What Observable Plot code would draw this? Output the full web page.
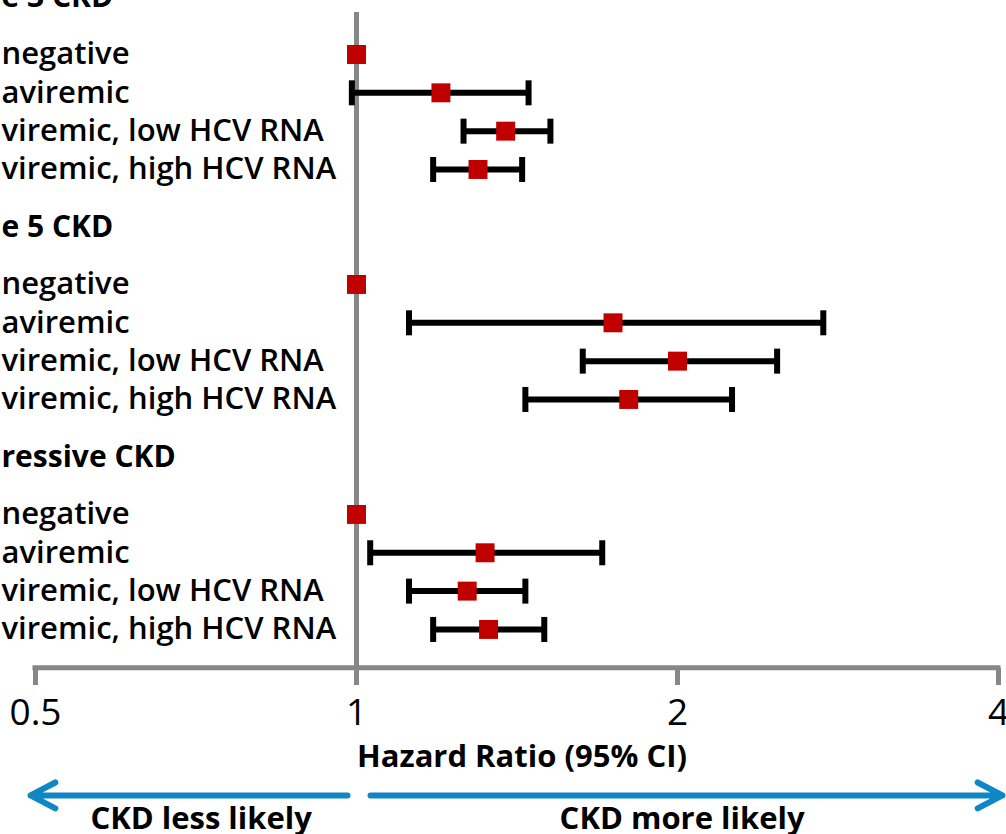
<!DOCTYPE html>
<html>
<head>
<meta charset="utf-8">
<script src="https://cdn.jsdelivr.net/npm/d3@7"></script>
<script src="https://cdn.jsdelivr.net/npm/@observablehq/plot@0.6"></script>
<style>
  html, body { margin: 0; padding: 0; background: #fff; overflow: hidden; }
</style>
</head>
<body>
<div id="chart"></div>
<script>
// Outcome groups (as they read at the left edge of the figure) and exposure categories
const groups = ["e 3 CKD", "e 5 CKD", "ressive CKD"];
const categories = [
  "negative",
  "aviremic",
  "viremic, low HCV RNA",
  "viremic, high HCV RNA"
];

// Hazard ratios with 95% confidence limits (reference group has no interval)
const stage3HR = [1, 1.20, 1.38, 1.30];
const stage3Lo = [null, 0.99, 1.26, 1.18];
const stage3Hi = [null, 1.45, 1.52, 1.43];

const stage5HR = [1, 1.74, 2.00, 1.80];
const stage5Lo = [null, 1.12, 1.63, 1.44];
const stage5Hi = [null, 2.74, 2.48, 2.25];

const progHR = [1, 1.32, 1.27, 1.33];
const progLo = [null, 1.03, 1.12, 1.18];
const progHi = [null, 1.70, 1.44, 1.50];

const xTicks = [0.5, 1, 2, 4];
const axisTitle = "Hazard Ratio (95% CI)";
const directionLabels = ["CKD less likely", "CKD more likely"];
const directionLabelX = [0.715, 2.02];

// Build rows: each group takes a heading slot followed by four category rows
const series = [
  [stage3HR, stage3Lo, stage3Hi],
  [stage5HR, stage5Lo, stage5Hi],
  [progHR, progLo, progHi]
];
const rowsPerGroup = 6;
const headings = groups.map((g, gi) => ({label: g, y: gi * rowsPerGroup}));
const rows = [];
series.forEach(([hr, lo, hi], gi) => {
  categories.forEach((c, i) => {
    rows.push({group: groups[gi], label: c, y: gi * rowsPerGroup + 1.5 + i, hr: hr[i], lo: lo[i], hi: hi[i]});
  });
});
const ciRows = rows.filter(d => d.lo != null);
const capPoints = ciRows.flatMap(d => [{x: d.lo, y: d.y}, {x: d.hi, y: d.y}]);

// Layout
const W = 1006, H = 834;
const marginLeft = 35, marginRight = 8, marginTop = 12, marginBottom = 166;
const rowStep = 38.33;
const yMax = 17.5;               // axis baseline slot
const arrowRow = 20.83;
const directionRow = 21.46;

const fontFamily = "'Open Sans', Lato, sans-serif";
const labelDx = -marginLeft + 1;

// Vertical error-bar cap
const capSymbol = {
  draw(context) {
    const w = 3, h = 12.5;
    context.moveTo(-w, -h);
    context.lineTo(w, -h);
    context.lineTo(w, h);
    context.lineTo(-w, h);
    context.closePath();
  }
};

const blue = "#0e87c4";
const grey = "#878787";
const red = "#c00000";

const chart = Plot.plot({
  width: W,
  height: H,
  marginLeft, marginRight, marginTop, marginBottom,
  style: {fontFamily, background: "#fff", color: "#000", overflow: "visible"},
  x: {type: "log", domain: [0.5, 4], label: null},
  y: {type: "linear", domain: [0, yMax], range: [-3.5, -3.5 + yMax * rowStep], axis: null},
  marks: [
    // Reference line at HR = 1
    Plot.ruleX([1], {stroke: grey, strokeWidth: 5}),
    // Axis baseline
    Plot.ruleY([yMax], {stroke: grey, strokeWidth: 5, strokeLinecap: "square"}),
    Plot.axisX({
      ticks: xTicks,
      tickFormat: d => String(d),
      tickSize: 17,
      tickPadding: 13,
      stroke: grey,
      strokeWidth: 5,
      fill: "#000",
      fontSize: 37,
      label: null
    }),
    // Confidence intervals
    Plot.ruleY(ciRows, {y: "y", x1: "lo", x2: "hi", stroke: "#000", strokeWidth: 6}),
    Plot.dot(capPoints, {x: "x", y: "y", symbol: capSymbol, fill: "#000", stroke: null, r: 5}),
    // Point estimates
    Plot.dot(rows, {x: "hr", y: "y", symbol: "square", r: 10.7, fill: red, stroke: null}),
    // Group headings and category labels
    Plot.text(headings, {
      y: "y", text: "label", frameAnchor: "left", textAnchor: "start",
      dx: labelDx, fontSize: 30, fontWeight: "bold", fill: "#000"
    }),
    Plot.text(rows, {
      y: "y", text: "label", frameAnchor: "left", textAnchor: "start",
      dx: labelDx, fontSize: 31, fontWeight: 600, fill: "#000"
    }),
    // Axis title
    Plot.text([axisTitle], {
      frameAnchor: "bottom", lineAnchor: "middle", dy: 89, dx: 5, text: d => d,
      fontSize: 31, fontWeight: "bold", fill: "#000"
    }),
    // Direction arrows
    Plot.arrow([{x1: 1, x2: 0.5, y: arrowRow}], {
      x1: "x1", x2: "x2", y1: "y", y2: "y",
      stroke: blue, strokeWidth: 6, headLength: 7, headAngle: 55,
      insetStart: 9, insetEnd: -5
    }),
    Plot.arrow([{x1: 1, x2: 4, y: arrowRow}], {
      x1: "x1", x2: "x2", y1: "y", y2: "y",
      stroke: blue, strokeWidth: 6, headLength: 7, headAngle: 55,
      insetStart: 14, insetEnd: -4
    }),
    Plot.text(directionLabels.map((t, i) => ({text: t, x: directionLabelX[i], y: directionRow})), {
      x: "x", y: "y", text: "text", fontSize: 31, fontWeight: "bold", fill: "#000"
    })
  ]
});

document.getElementById("chart").appendChild(chart);
</script>
</body>
</html>
